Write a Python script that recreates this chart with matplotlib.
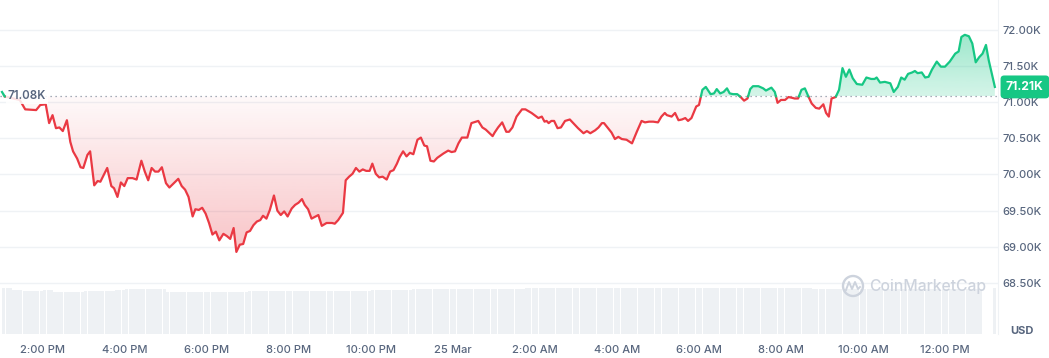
import matplotlib.pyplot as plt
import numpy as np
from matplotlib.path import Path
from matplotlib.colors import to_rgb
from matplotlib.patches import Ellipse
from matplotlib.lines import Line2D

plt.rcParams['font.family'] = ['Inter', 'DejaVu Sans']

# time axis: minutes after 24 Mar 13:00
minutes = [0, 4, 12, 26, 34, 50, 56, 64, 69, 74, 79, 84, 89, 95, 100, 104, 110, 115, 119, 125,
           129, 135, 140, 144, 154, 160, 164, 169, 174, 179, 184, 191, 197, 204, 209, 214, 219, 224,
           229, 234, 240, 245, 258, 263, 268, 273, 279, 283, 288, 293, 298, 303, 308, 313, 318, 324,
           329, 334, 339, 343, 348, 353, 358, 363, 368, 373, 378, 382, 387, 392, 398, 403, 408, 413,
           418, 424, 429, 434, 439, 443, 448, 453, 463, 468, 475, 483, 487, 492, 499, 503, 508, 513,
           518, 523, 528, 533, 538, 542, 547, 552, 557, 563, 568, 573, 578, 582, 587, 592, 597, 602,
           608, 613, 618, 622, 627, 632, 637, 646, 653, 658, 663, 668, 673, 681, 687, 697, 703, 708,
           718, 721, 726, 732, 738, 742, 747, 753, 761, 766, 775, 785, 790, 794, 797, 800, 804, 808,
           813, 818, 824, 831, 836, 843, 851, 856, 861, 868, 873, 878, 881, 887, 892, 897, 902, 907,
           914, 922, 929, 936, 941, 947, 953, 960, 965, 970, 973, 980, 985, 990, 995, 1000, 1004,
           1009, 1016, 1020, 1025, 1030, 1037, 1042, 1046, 1051, 1056, 1061, 1065, 1070, 1076, 1081,
           1086, 1091, 1095, 1099, 1107, 1114, 1118, 1126, 1131, 1135, 1140, 1146, 1151, 1156, 1160,
           1165, 1170, 1175, 1180, 1185, 1191, 1196, 1202, 1206, 1210, 1214, 1220, 1225, 1230, 1235,
           1240, 1245, 1251, 1259, 1265, 1272, 1277, 1280, 1285, 1292, 1300, 1305, 1311, 1316, 1321,
           1326, 1332, 1336, 1340, 1346, 1351, 1356, 1361, 1368, 1374, 1380, 1387, 1395, 1400, 1404,
           1409, 1415, 1420, 1425, 1430, 1435, 1440, 1444, 1453]

price = [71140, 71080, 71060, 71030, 70900, 70890, 70960, 70970, 70710, 70820, 70640, 70650, 70600,
         70750, 70450, 70320, 70220, 70100, 70090, 70270, 70320, 69850, 69910, 69900, 70090, 69840,
         69810, 69690, 69890, 69840, 69950, 69950, 69930, 70190, 70040, 69920, 70090, 70040, 70040,
         70100, 69880, 69820, 69940, 69840, 69790, 69690, 69420, 69520, 69510, 69540, 69460, 69330,
         69170, 69210, 69090, 69180, 69150, 69110, 69260, 68930, 69030, 69040, 69200, 69220, 69300,
         69350, 69370, 69430, 69390, 69510, 69710, 69500, 69440, 69490, 69420, 69530, 69580, 69610,
         69660, 69580, 69520, 69390, 69440, 69290, 69330, 69330, 69320, 69370, 69470, 69920, 69970,
         70010, 70090, 70040, 70070, 70050, 70050, 70150, 70010, 69960, 69970, 69930, 70040, 70060,
         70150, 70240, 70320, 70250, 70300, 70280, 70480, 70510, 70400, 70390, 70190, 70180, 70230,
         70290, 70330, 70310, 70320, 70430, 70510, 70510, 70710, 70740, 70650, 70620, 70530, 70580,
         70650, 70720, 70590, 70590, 70650, 70800, 70900, 70900, 70850, 70780, 70800, 70730, 70740,
         70710, 70740, 70740, 70640, 70650, 70740, 70760, 70710, 70640, 70570, 70600, 70570, 70610,
         70650, 70710, 70710, 70640, 70580, 70490, 70520, 70490, 70480, 70430, 70590, 70740, 70720,
         70730, 70730, 70720, 70800, 70850, 70820, 70800, 70850, 70750, 70760, 70780, 70740, 70780,
         70940, 70960, 71170, 71210, 71110, 71120, 71180, 71120, 71140, 71190, 71120, 71110, 71110,
         71070, 71020, 71050, 71180, 71220, 71220, 71190, 71160, 71200, 71140, 70990, 71030, 71030,
         71070, 71060, 71050, 71050, 71170, 71190, 71080, 70980, 70920, 70910, 70970, 70850, 70800,
         71050, 71070, 71170, 71470, 71350, 71450, 71330, 71250, 71240, 71340, 71320, 71320, 71340,
         71270, 71280, 71260, 71140, 71210, 71340, 71310, 71390, 71410, 71430, 71400, 71410, 71340,
         71350, 71450, 71560, 71490, 71490, 71560, 71670, 71700, 71900, 71930, 71910, 71810, 71550,
         71620, 71670, 71790, 71580, 71210]

ref_price = 71080

# relative volume, one value per 15-minute slot
volume = [45.7, 44, 43, 43, 44, 42.5, 42, 42, 43, 43, 43, 44, 45.5, 45.5, 45.5, 45.5,
          42, 42, 42, 42, 42, 42, 42, 42,
          43, 43, 43, 43, 43, 43, 43, 43, 43, 43, 43, 43,
          44, 44, 44, 44.5,
          45.5, 45.5, 45.5, 45.5, 45.5, 45.5, 45.5, 45.5, 45.5, 45.5, 45.5, 46,
          46, 46, 46.5, 46, 46, 46, 46, 46, 46, 46, 46, 46, 46, 46,
          46, 46, 46, 46, 46, 46, 46.5, 46, 46, 46, 46, 46, 46, 45.5,
          45, 45, 45, 45, 45, 45, 45, 45, 45, 45, 45, 45, 45, 45, 45, 45,
          46]
no_trade_bars = [1435, 1440, 1445]

tick_minutes = [60, 180, 300, 420, 540, 660, 780, 900, 1020, 1140, 1260, 1380]
tick_labels = ['2:00 PM', '4:00 PM', '6:00 PM', '8:00 PM', '10:00 PM', '25 Mar',
               '2:00 AM', '4:00 AM', '6:00 AM', '8:00 AM', '10:00 AM', '12:00 PM']
price_ticks = [68500, 69000, 69500, 70000, 70500, 71000, 71500, 72000]

RED = '#ea3943'
GREEN = '#16c784'
TXT = '#58667e'
GRID = '#eff2f5'

W, H = 1049, 358
fig = plt.figure(figsize=(W / 100, H / 100), dpi=100)
xmin, xmax = -2.9, 1457.6

# volume panel
axv = fig.add_axes([0, (H - 334) / H, 998 / W, 51 / H])
axv.set_facecolor('none')
bar_m = np.arange(0, 1455, 5)
bar_v = np.array([volume[m // 15] for m in bar_m], float)
bar_v[np.isin(bar_m, no_trade_bars)] = 0
axv.bar(bar_m + 2.5, bar_v, width=4.6, color='#eef1f4', linewidth=0)
axv.set_xlim(xmin, xmax)
axv.set_ylim(0, 51)
axv.axis('off')

# price panel
ax = fig.add_axes([0, (H - 334) / H, 998 / W, 334 / H])
ax.set_facecolor('none')
t = np.array(minutes, float)
p = np.array(price, float)

# insert crossing points of the reference line
tt, pp = [t[0]], [p[0]]
for i in range(1, len(t)):
    a, b = p[i - 1] - ref_price, p[i] - ref_price
    if a * b < 0:
        tt.append(t[i - 1] + (t[i] - t[i - 1]) * a / (a - b))
        pp.append(ref_price)
    tt.append(t[i])
    pp.append(p[i])
tt, pp = np.array(tt), np.array(pp)


def gradient_fill(where, color, y0, y1, a0, a1):
    poly = ax.fill_between(tt, pp, ref_price, where=where, interpolate=True,
                           facecolor='none', edgecolor='none')
    path = Path.make_compound_path(*poly.get_paths())
    rgba = np.zeros((256, 1, 4))
    rgba[..., :3] = to_rgb(color)
    rgba[..., 3] = np.linspace(a0, a1, 256).reshape(-1, 1)
    im = ax.imshow(rgba, extent=[xmin, xmax, y0, y1], origin='lower',
                   aspect='auto', zorder=1, interpolation='bilinear')
    im.set_clip_path(path, transform=ax.transData)


gradient_fill(pp <= ref_price, RED, 68900, ref_price, 0.30, 0.03)
gradient_fill(pp >= ref_price, GREEN, ref_price, 71950, 0.18, 0.42)

ax.plot(tt, np.where(pp <= ref_price, pp, np.nan), color=RED, lw=1.6, zorder=3,
        solid_joinstyle='round')
ax.plot(tt, np.where(pp >= ref_price, pp, np.nan), color=GREEN, lw=1.6, zorder=3,
        solid_joinstyle='round')
ax.axhline(ref_price, color='#8a93a3', lw=0.9, ls=(0, (1, 3)), zorder=2)

ax.set_xlim(xmin, xmax)
ax.set_ylim(67796, 72411)
ax.set_yticks(price_ticks)
ax.set_yticklabels([f'{v / 1000:.2f}K' for v in price_ticks])
ax.yaxis.tick_right()
ax.set_xticks(tick_minutes)
ax.set_xticklabels(tick_labels)
ax.tick_params(axis='both', length=0, labelsize=8, labelcolor=TXT)
ax.tick_params(axis='y', pad=3)
ax.tick_params(axis='x', pad=8)
for lab in ax.get_yticklabels() + ax.get_xticklabels():
    lab.set_fontweight('medium')
ax.grid(axis='y', color=GRID, lw=1, zorder=0)
ax.set_axisbelow(True)
for s in ['top', 'left', 'bottom']:
    ax.spines[s].set_visible(False)
ax.spines['right'].set_color(GRID)

ytr = ax.get_yaxis_transform()
ax.text(8 / 998, ref_price, f'{ref_price / 1000:.2f}K', transform=ytr, fontsize=8.3,
        color=TXT, fontweight='semibold', va='center', ha='left', zorder=5,
        bbox=dict(boxstyle='square,pad=0.15', fc='white', ec='none', alpha=0.85))
ax.text(1006 / 998, p[-1], f'{p[-1] / 1000:.2f}K', transform=ytr, fontsize=8.7,
        color='white', fontweight='bold', va='center', ha='left', zorder=6, clip_on=False,
        bbox=dict(boxstyle='round,pad=0.45,rounding_size=0.3', fc=GREEN, ec='none'))

fig.text(1022 / W, 1 - 331 / H, 'USD', fontsize=8, color=TXT, fontweight='bold',
         ha='center', va='center')

# watermark
wm = '#cdd3dd'
fig.add_artist(Ellipse((853 / W, 1 - 286 / H), 20 / W, 20 / H, fill=False, ec=wm, lw=1.7))
fig.add_artist(Line2D(np.array([846, 849, 852, 855, 858, 860]) / W,
                      1 - np.array([290, 282, 289, 282, 289, 287]) / H, color=wm, lw=1.4))
fig.text(869 / W, 1 - 287 / H, 'CoinMarketCap', fontsize=11.3, color=wm,
         fontweight='medium', ha='left', va='center')

fig.savefig('out.png', dpi=100)
